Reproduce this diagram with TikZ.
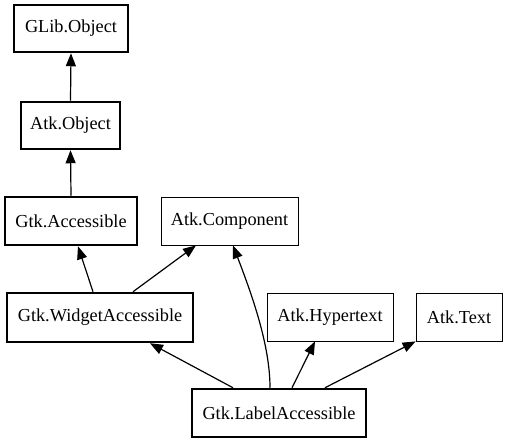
\documentclass[tikz,border=0pt]{standalone}
\usepackage{fontspec}
\setmainfont{Liberation Serif}
\usetikzlibrary{arrows.meta}
\begin{document}
\begin{tikzpicture}[x=1pt,y=-1pt,
  box/.style={draw, line width=0.8pt, rectangle, inner sep=0pt, font=\fontsize{18.3}{20}\selectfont},
  boldbox/.style={box, line width=2.5pt},
  edge/.style={line width=1.2pt, -{Triangle[length=13pt,width=10pt]}}]
\useasboundingbox (0,0) rectangle (507,443);
\node[boldbox, minimum width=114, minimum height=47] (glib) at (71,28.5) {GLib.Object};
\node[boldbox, minimum width=99, minimum height=47] (atkobj) at (70.5,125.5) {Atk.Object};
\node[boldbox, minimum width=132, minimum height=48] (gtkacc) at (71,221) {Gtk.Accessible};
\node[box, minimum width=137, minimum height=48] (atkcomp) at (229.5,221) {Atk.Component};
\node[boldbox, minimum width=186, minimum height=49] (widget) at (100,317.5) {Gtk.WidgetAccessible};
\node[box, minimum width=126, minimum height=48] (hyper) at (330,317) {Atk.Hypertext};
\node[box, minimum width=86, minimum height=48] (text) at (459,317) {Atk.Text};
\node[boldbox, minimum width=174, minimum height=48] (label) at (279,413) {Gtk.LabelAccessible};

\draw[edge] (atkobj.north) -- (glib.south);
\draw[edge] (gtkacc.north) -- (atkobj.south);
\draw[edge] ([xshift=-7]widget.north) -- ([xshift=7]gtkacc.south);
\draw[edge] ([xshift=33]widget.north) -- ([xshift=-33.5]atkcomp.south);
\draw[edge] ([xshift=-46]label.north) -- ([xshift=50]widget.south);
\draw[edge] ([xshift=-9]label.north) .. controls (270,345) and (252,295) .. ([xshift=3.5]atkcomp.south);
\draw[edge] ([xshift=13]label.north) -- ([xshift=-15]hyper.south);
\draw[edge] ([xshift=46]label.north) -- (text.south west);
\end{tikzpicture}
\end{document}
